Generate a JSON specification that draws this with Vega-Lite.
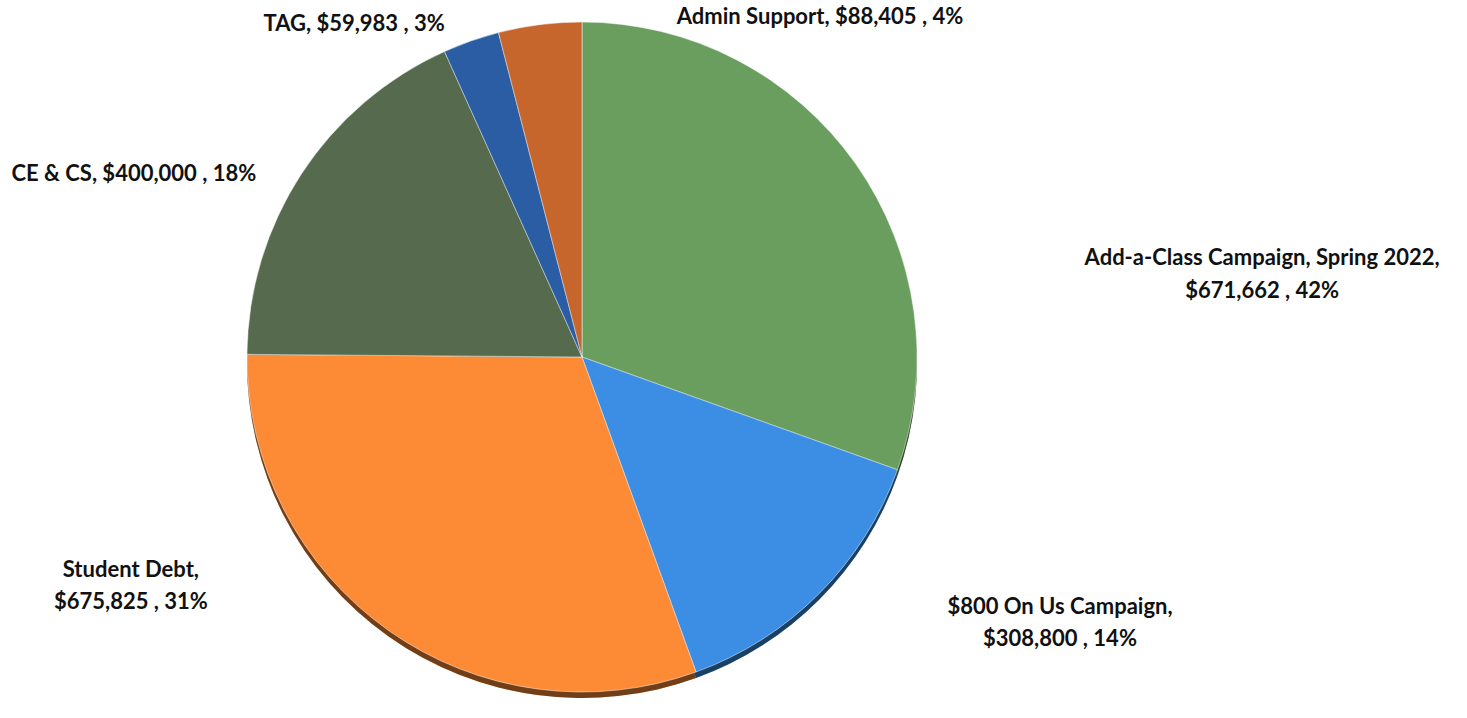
{
  "$schema": "https://vega.github.io/schema/vega-lite/v6.json",
  "width": 1164,
  "height": 714,
  "padding": {"left": 0, "top": 0, "right": 303, "bottom": 4},
  "autosize": {"type": "none"},
  "background": "#ffffff",
  "config": {"view": {"stroke": null}},
  "data": {
    "values": [
      {"category": "Add-a-Class Campaign, Spring 2022", "value": 671662, "order": 1, "label": "Add-a-Class Campaign, Spring 2022,\n$671,662 , 42%"},
      {"category": "$800 On Us Campaign", "value": 308800, "order": 2, "label": "$800 On Us Campaign,\n$308,800 , 14%"},
      {"category": "Student Debt", "value": 675825, "order": 3, "label": "Student Debt,\n$675,825 , 31%"},
      {"category": "CE & CS", "value": 400000, "order": 4, "label": "CE & CS,  $400,000 , 18%"},
      {"category": "TAG", "value": 59983, "order": 5, "label": "TAG,  $59,983 , 3%"},
      {"category": "Admin Support", "value": 88405, "order": 6, "label": "Admin Support,  $88,405 , 4%"}
    ]
  },
  "encoding": {
    "theta": {"field": "value", "type": "quantitative", "stack": true},
    "order": {"field": "order", "type": "quantitative"}
  },
  "layer": [
    {
      "mark": {"type": "arc", "outerRadius": 335, "yOffset": 6},
      "encoding": {
        "color": {
          "field": "category", "type": "nominal", "legend": null,
          "scale": {
            "domain": ["Add-a-Class Campaign, Spring 2022", "$800 On Us Campaign", "Student Debt", "CE & CS", "TAG", "Admin Support"],
            "range": ["#6a9e5e", "#3b8ee3", "#fd8b35", "#566b4e", "#2a5da3", "#c6652c"]
          }
        }
      }
    },
    {
      "mark": {"type": "arc", "outerRadius": 335, "yOffset": 6, "fill": "#000000", "fillOpacity": 0.55},
      "encoding": {}
    },
    {
      "mark": {"type": "arc", "outerRadius": 335, "stroke": "#ffffff", "strokeWidth": 0.8, "strokeOpacity": 0.6},
      "encoding": {
        "color": {"field": "category", "type": "nominal", "legend": null}
      }
    },
    {
      "mark": {"type": "text", "radius": 350, "dx": 394, "dy": 103, "font": "Lato", "fontWeight": "bold", "fontSize": 22, "fill": "#111111", "align": "center", "baseline": "middle", "lineBreak": "\n", "lineHeight": 33},
      "encoding": {"text": {"condition": {"test": "datum.order === 1", "field": "label"}, "value": ""}}
    },
    {
      "mark": {"type": "text", "radius": 350, "dx": 230, "dy": 3, "font": "Lato", "fontWeight": "bold", "fontSize": 22, "fill": "#111111", "align": "center", "baseline": "middle", "lineBreak": "\n", "lineHeight": 32},
      "encoding": {"text": {"condition": {"test": "datum.order === 2", "field": "label"}, "value": ""}}
    },
    {
      "mark": {"type": "text", "radius": 350, "dx": -249, "dy": -73, "font": "Lato", "fontWeight": "bold", "fontSize": 22, "fill": "#111111", "align": "center", "baseline": "middle", "lineBreak": "\n", "lineHeight": 32},
      "encoding": {"text": {"condition": {"test": "datum.order === 3", "field": "label"}, "value": ""}}
    },
    {
      "mark": {"type": "text", "radius": 350, "dx": -155, "dy": 8, "font": "Lato", "fontWeight": "bold", "fontSize": 22, "fill": "#111111", "align": "center", "baseline": "middle", "lineBreak": "\n", "lineHeight": 33},
      "encoding": {"text": {"condition": {"test": "datum.order === 4", "field": "label"}, "value": ""}}
    },
    {
      "mark": {"type": "text", "radius": 350, "dx": -112, "dy": -3, "font": "Lato", "fontWeight": "bold", "fontSize": 22, "fill": "#111111", "align": "center", "baseline": "middle", "lineBreak": "\n", "lineHeight": 33},
      "encoding": {"text": {"condition": {"test": "datum.order === 5", "field": "label"}, "value": ""}}
    },
    {
      "mark": {"type": "text", "radius": 350, "dx": 282, "dy": 7, "font": "Lato", "fontWeight": "bold", "fontSize": 22, "fill": "#111111", "align": "center", "baseline": "middle", "lineBreak": "\n", "lineHeight": 33},
      "encoding": {"text": {"condition": {"test": "datum.order === 6", "field": "label"}, "value": ""}}
    }
  ]
}
